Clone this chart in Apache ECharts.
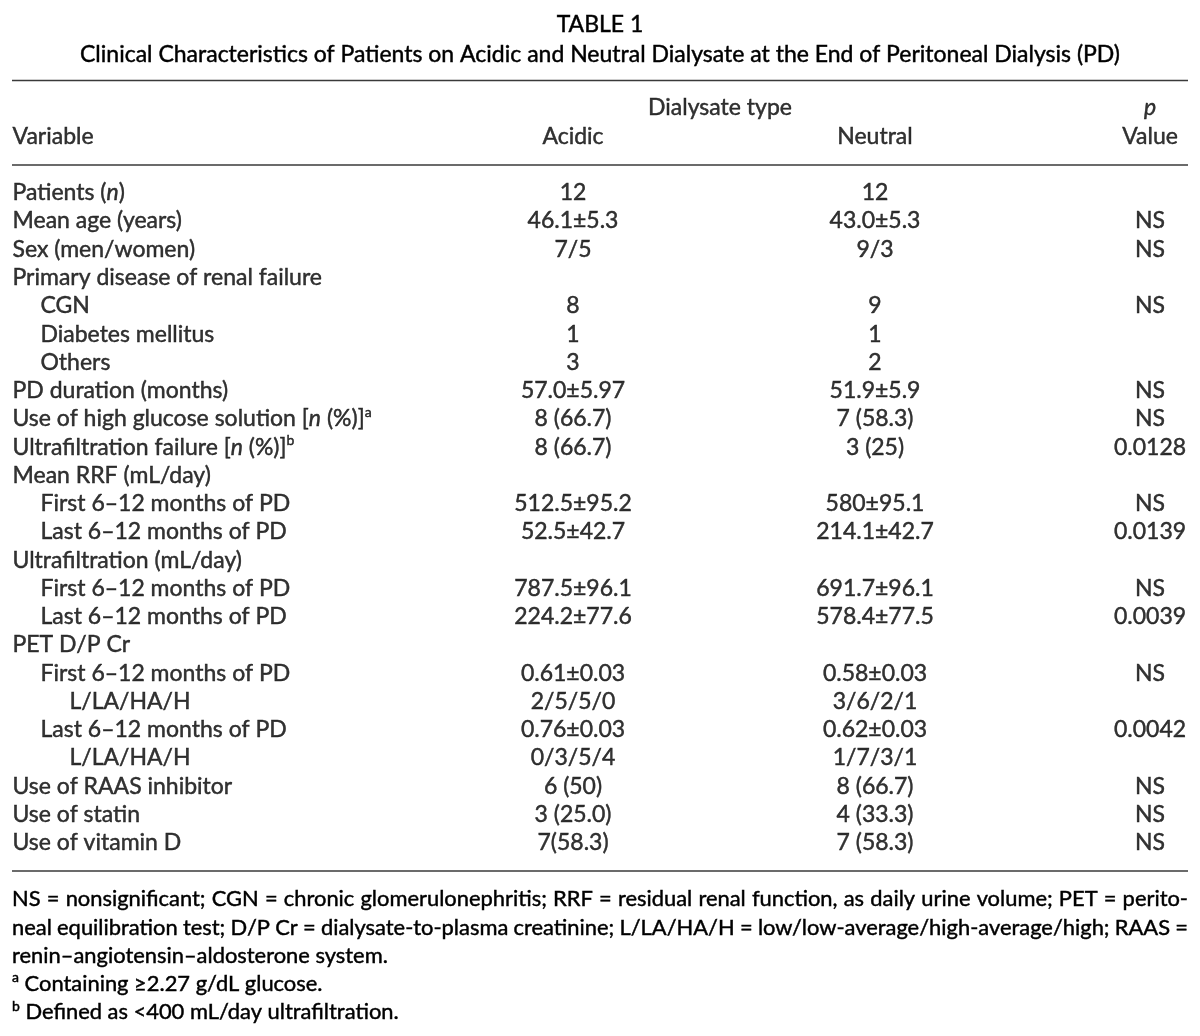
<!DOCTYPE html>
<html><head><meta charset="utf-8">
<script src="https://cdn.jsdelivr.net/npm/echarts@6/dist/echarts.min.js"></script>
<style>html,body{margin:0;padding:0;background:#fff}#c{width:1200px;height:1036px}</style>
</head><body><div id="c"></div>
<script>
// ---------- DATA ----------
const tableTitle = 'TABLE 1';
const tableSubtitle = 'Clinical Characteristics of Patients on Acidic and Neutral Dialysate at the End of Peritoneal Dialysis (PD)';
const groupHeader = 'Dialysate type';
const columnHeaders = ['Variable', 'Acidic', 'Neutral', 'Value'];
const pHeader = 'p';
const variables = [
  'Patients ({i|n})', 'Mean age (years)', 'Sex (men/women)', 'Primary disease of renal failure',
  'CGN', 'Diabetes mellitus', 'Others', 'PD duration (months)',
  'Use of high glucose solution [{i|n} (%)]{sup|a}', 'Ultrafiltration failure [{i|n} (%)]{sup|b}',
  'Mean RRF (mL/day)', 'First 6–12 months of PD', 'Last 6–12 months of PD',
  'Ultrafiltration (mL/day)', 'First 6–12 months of PD', 'Last 6–12 months of PD',
  'PET D/P Cr', 'First 6–12 months of PD', 'L/LA/HA/H', 'Last 6–12 months of PD', 'L/LA/HA/H',
  'Use of RAAS inhibitor', 'Use of statin', 'Use of vitamin D'
];
const indentLevels = [0,0,0,0, 1,1,1,0, 0,0, 0,1,1, 0,1,1, 0,1,2,1,2, 0,0,0];
const acidic = [
  '12', '46.1±5.3', '7/5', '', '8', '1', '3', '57.0±5.97', '8 (66.7)', '8 (66.7)',
  '', '512.5±95.2', '52.5±42.7', '', '787.5±96.1', '224.2±77.6',
  '', '0.61±0.03', '2/5/5/0', '0.76±0.03', '0/3/5/4', '6 (50)', '3 (25.0)', '7(58.3)'
];
const neutral = [
  '12', '43.0±5.3', '9/3', '', '9', '1', '2', '51.9±5.9', '7 (58.3)', '3 (25)',
  '', '580±95.1', '214.1±42.7', '', '691.7±96.1', '578.4±77.5',
  '', '0.58±0.03', '3/6/2/1', '0.62±0.03', '1/7/3/1', '8 (66.7)', '4 (33.3)', '7 (58.3)'
];
const pValues = [
  '', 'NS', 'NS', '', 'NS', '', '', 'NS', 'NS', '0.0128',
  '', 'NS', '0.0139', '', 'NS', '0.0039',
  '', 'NS', '', '0.0042', '', 'NS', 'NS', 'NS'
];
const footnoteJustified = [
  'NS = nonsignificant; CGN = chronic glomerulonephritis; RRF = residual renal function, as daily urine volume; PET = perito-',
  'neal equilibration test; D/P Cr = dialysate-to-plasma creatinine; L/LA/HA/H = low/low-average/high-average/high; RAAS ='
];
const footnotePlain = [
  'renin–angiotensin–aldosterone system.',
  '{sup|a} Containing ≥2.27 g/dL glucose.',
  '{sup|b} Defined as <400 mL/day ultrafiltration.'
];

// ---------- LAYOUT ----------
const W = 1200, H = 1036;
const LEFT = 12, RIGHT = 12;
const TABLE_W = W - LEFT - RIGHT;
const FONT = 'Lato, "Open Sans", "Liberation Sans", sans-serif';
const COLOR = '#000000';
const RULE = '#3a3a3a';
const BAND = 28.26;
const FIRST_ROW_Y = 108;
const COL_X = { indent: [0, 28, 57], acidic: 561, neutral: 863, group: 708, p: 1138 };
const THICK = 0.45;

const cv = document.createElement('canvas').getContext('2d');
function textW(t, s) { cv.font = s + 'px ' + FONT; return cv.measureText(t).width; }
let FS = 20 * 1045 / textW(tableSubtitle, 20);
FS = Math.max(17, Math.min(23, FS));
FS = Math.round(FS * 10) / 10;
// footnote size: justified lines must fit with a minimal word gap
let FSF = FS;
footnoteJustified.forEach(line => {
  const words = line.split(' ');
  const w20 = words.reduce((a, w) => a + textW(w, 20), 0);
  const minGap20 = textW(' ', 20) * 0.85 * (words.length - 1);
  const fit = 20 * TABLE_W / (w20 + minGap20);
  FSF = Math.min(FSF, fit);
});
FSF = Math.floor(FSF * 10) / 10;

const rowIds = ['h1', 'h2', 'rule1'].concat(variables.map((_, i) => 'b' + i)).concat(['rule2']);
const gridTop = FIRST_ROW_Y - BAND / 2;
const gridH = rowIds.length * BAND;
const gridBottom = H - gridTop - gridH;

const textStroke = { textBorderColor: COLOR, textBorderWidth: THICK };
const rich = {
  i: Object.assign({ fontStyle: 'italic', fontSize: FS, fontFamily: FONT, color: COLOR }, textStroke),
  sup: Object.assign({ fontSize: Math.round(FS * 0.62), fontFamily: FONT, color: COLOR, verticalAlign: 'top', lineHeight: FS * 1.2 }, textStroke)
};
const baseLabel = Object.assign({ show: true, color: COLOR, fontSize: FS, fontFamily: FONT, rich: rich, lineHeight: FS * 1.2 }, textStroke);

function textSeries(name, items, pos) {
  return {
    type: 'scatter', name: name, silent: true, symbolSize: 1,
    itemStyle: { color: 'rgba(0,0,0,0)' },
    label: Object.assign({}, baseLabel, {
      position: pos, distance: 0,
      formatter: p => p.data.t
    }),
    data: items.filter(d => d.t !== '').map(d => ({ value: [d.x, d.row], t: d.t }))
  };
}

const varItems = variables.map((t, i) => ({ x: COL_X.indent[indentLevels[i]], row: 'b' + i, t }));
varItems.push({ x: 0, row: 'h2', t: columnHeaders[0] });
const acItems = acidic.map((t, i) => ({ x: COL_X.acidic, row: 'b' + i, t }));
acItems.push({ x: COL_X.acidic, row: 'h2', t: columnHeaders[1] });
const neItems = neutral.map((t, i) => ({ x: COL_X.neutral, row: 'b' + i, t }));
neItems.push({ x: COL_X.neutral, row: 'h2', t: columnHeaders[2] });
neItems.push({ x: COL_X.group, row: 'h1', t: groupHeader });
const pItems = pValues.map((t, i) => ({ x: COL_X.p, row: 'b' + i, t }));
pItems.push({ x: COL_X.p, row: 'h2', t: columnHeaders[3] });
pItems.push({ x: COL_X.p, row: 'h1', t: '{i|' + pHeader + '}' });

const series = [
  textSeries('Variable', varItems, 'right'),
  textSeries('Acidic', acItems, 'inside'),
  textSeries('Neutral', neItems, 'inside'),
  textSeries('p', pItems, 'inside')
];
series[0].markLine = {
  silent: true, symbol: 'none', label: { show: false },
  lineStyle: { color: RULE, width: 1.6, type: 'solid' },
  data: [{ yAxis: 'rule1' }, { yAxis: 'rule2' }]
};

// footnotes (graphic text; justified lines laid out word by word)
const graphics = [{
  type: 'line', shape: { x1: LEFT, y1: 80.5, x2: W - RIGHT, y2: 80.5 },
  style: { stroke: RULE, lineWidth: 1.6 }, silent: true
}];
const footY0 = gridTop + gridH + BAND / 2;
footnoteJustified.forEach((line, li) => {
  const words = line.split(' ');
  const ws = words.map(w => textW(w, FSF));
  const total = ws.reduce((a, b) => a + b, 0);
  const gap = (TABLE_W - total) / (words.length - 1);
  let x = LEFT;
  words.forEach((w, wi) => {
    graphics.push({ type: 'text', x: x, y: footY0 + li * BAND, silent: true,
      style: { text: w, fontSize: FSF, fontFamily: FONT, fill: COLOR, stroke: COLOR, lineWidth: THICK,
        textAlign: 'left', textVerticalAlign: 'middle' } });
    x += ws[wi] + gap;
  });
});
footnotePlain.forEach((line, li) => {
  graphics.push({ type: 'text', x: LEFT, y: footY0 + (li + 2) * BAND, silent: true,
    style: { text: line, fontSize: FSF, fontFamily: FONT, fill: COLOR, stroke: COLOR, lineWidth: THICK,
      textAlign: 'left', textVerticalAlign: 'middle',
      rich: { sup: { fontSize: Math.round(FSF * 0.62), fontFamily: FONT, fill: COLOR, stroke: COLOR, lineWidth: THICK, verticalAlign: 'top', lineHeight: FSF * 1.2 } },
      lineHeight: FSF * 1.2 } });
});

const chart = echarts.init(document.getElementById('c'), null, { renderer: 'canvas' });
chart.setOption({
  animation: false,
  backgroundColor: '#ffffff',
  title: {
    text: tableTitle, subtext: tableSubtitle, left: 'center', top: 20 - FS * 0.6, itemGap: 30 - FS * 1.2,
    textStyle: Object.assign({ fontSize: FS, fontWeight: 'normal', color: COLOR, fontFamily: FONT, lineHeight: FS * 1.2 }, textStroke),
    subtextStyle: Object.assign({ fontSize: FS, color: COLOR, fontFamily: FONT, lineHeight: FS * 1.2 }, textStroke)
  },
  grid: { left: LEFT, right: RIGHT, top: gridTop, bottom: gridBottom, containLabel: false },
  xAxis: { type: 'value', min: 0, max: TABLE_W, show: false },
  yAxis: { type: 'category', data: rowIds, inverse: true, show: false },
  graphic: graphics,
  series: series
});
</script></body></html>
